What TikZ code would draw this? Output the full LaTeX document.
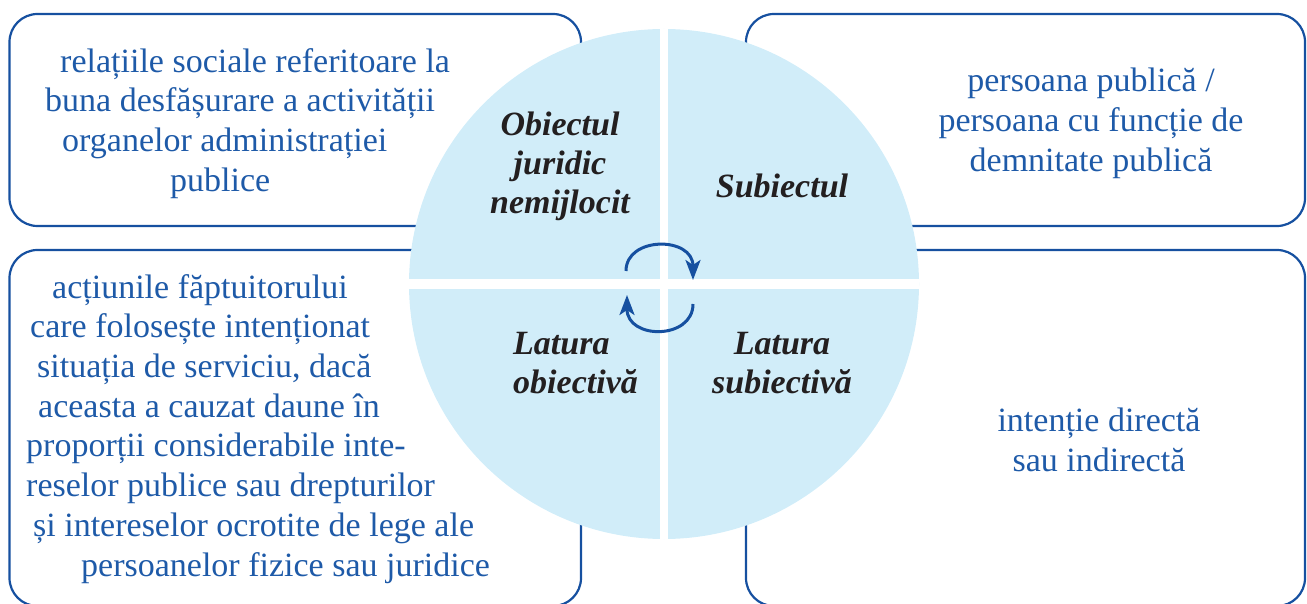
\documentclass[tikz,border=0pt]{standalone}
\usepackage{fontspec}
\setmainfont{Liberation Serif}
\usetikzlibrary{arrows.meta}
\definecolor{edgeblue}{RGB}{22,80,160}
\definecolor{textblue}{RGB}{30,90,168}
\definecolor{wheelfill}{RGB}{209,237,249}
\definecolor{ink}{RGB}{35,31,32}

\begin{document}
\begin{tikzpicture}[x=1pt,y=-1pt,
   box/.style={rectangle,draw=edgeblue,line width=2.2pt,rounded corners=28pt},
   txt/.style={inner sep=0pt,text=textblue,font=\fontsize{34}{39.7}\selectfont},
   lbl/.style={inner sep=0pt,text=ink,font=\fontsize{34}{39}\selectfont\bfseries\itshape},
   turn/.style={draw=edgeblue,line width=3pt,-{Stealth[length=20pt,width=15pt,inset=5pt]}}
    ]
  \useasboundingbox (0,0) rectangle (1307,604);

  % -- boxes
  \node[box,minimum width=571.5pt,minimum height=212pt] at (295.25,120) (tl) {};
  \node[box,minimum width=559pt,minimum height=212pt] at (1025.5,120) (tr) {};
  \node[box,minimum width=571.5pt,minimum height=356pt] at (295.25,428) (bl) {};
  \node[box,minimum width=559pt,minimum height=356pt] at (1025.5,428) (br) {};

  % -- wheel
  \node[circle,fill=wheelfill,minimum size=510pt,inner sep=0pt] at (664,284) (wheel) {};
  \draw[white,line width=8pt] (wheel.north) -- (wheel.south);
  \draw[white,line width=9pt] (wheel.west) -- (wheel.east);

  % -- arrows
  \coordinate (a1) at (626,271);
  \coordinate (a2) at (693,280);
  \coordinate (b1) at (693,304);
  \coordinate (b2) at (627,295);
  \draw[turn] (a1) .. controls (626,236) and (693,236) .. (a2);
  \draw[turn] (b1) .. controls (693,340) and (627,340) .. (b2);

  % -- wheel labels
  \node[lbl,anchor=north,align=center] at (560,112) (obj) {Obiectul\\juridic\\nemijlocit};
  \node[lbl,anchor=base] at (782,198) (subj) {Subiectul};
  \node[lbl,anchor=north west,align=left] at (513,332.5) (lob) {Latura\\obiectivă};
  \node[lbl,anchor=north,align=center] at (782,332.5) (lsub) {Latura\\subiectivă};

  % -- box texts
  \node[txt,anchor=north west,align=left] at (45,48) (tlt) {\hspace*{15pt}relațiile sociale referitoare la\\buna desfășurare a activității\\\hspace*{17pt}organelor administrației\\\hspace*{125pt}publice};
  \node[txt,anchor=north,align=center] at (1091,68) (trt) {persoana publică /\\persoana cu funcție de\\demnitate publică};
  \node[txt,anchor=north west,align=left] at (26,274) (blt) {\hspace*{26pt}acțiunile făptuitorului\\\hspace*{4pt}care folosește intenționat\\\hspace*{11pt}situația de serviciu, dacă\\\hspace*{12pt}aceasta a cauzat daune în\\proporții considerabile inte-\\reselor publice sau drepturilor\\\hspace*{7pt}și intereselor ocrotite de lege ale\\\hspace*{55pt}persoanelor fizice sau juridice};
  \node[txt,anchor=north,align=center] at (1099,408) (brt) {intenție directă\\sau indirectă};
\end{tikzpicture}
\end{document}
